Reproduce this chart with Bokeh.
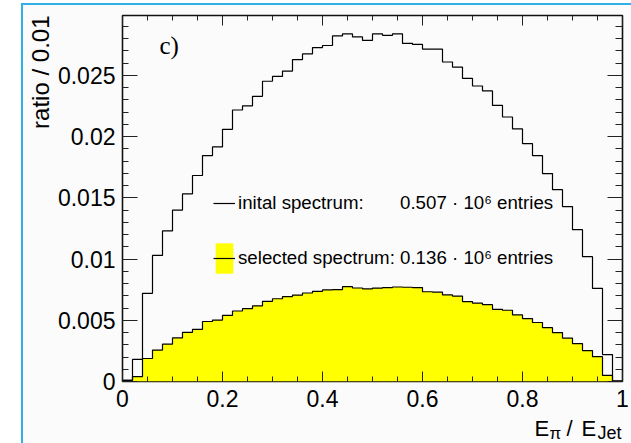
import numpy as np
from bokeh.plotting import figure
from bokeh.layouts import column
from bokeh.models import (SingleIntervalTicker, CustomJSTickFormatter, LinearAxis,
                          Legend, LegendItem, Label, Range1d, Title)
from bokeh.embed import file_html
from bokeh.resources import INLINE

# ---- data (50 bins of width 0.02 on [0, 1]) ----
bin_width = 0.02
n_bins = 50
initial_spectrum = [
    0.0001, 0.0018, 0.0072, 0.0103, 0.0123, 0.0140, 0.01533, 0.01683, 0.01846, 0.01916,
    0.0206, 0.02218, 0.02252, 0.0233, 0.02453, 0.02492, 0.02536, 0.0263, 0.02676, 0.02728,
    0.02745, 0.02823, 0.0284, 0.02815, 0.02786, 0.0284, 0.02828, 0.0284, 0.02762, 0.02754,
    0.02715, 0.02715, 0.0261, 0.02569, 0.02476, 0.02414, 0.02374, 0.02255, 0.02161, 0.02063,
    0.01944, 0.01846, 0.01699, 0.01567, 0.01429, 0.0124, 0.0102, 0.0076, 0.0022, 0.00005,
]
selected_spectrum = [
    0.0001, 0.0004, 0.00188, 0.00257, 0.00305, 0.00356, 0.00402, 0.00426, 0.0049, 0.00502,
    0.0054, 0.00576, 0.00595, 0.00618, 0.00655, 0.00676, 0.00694, 0.00706, 0.00723, 0.00737,
    0.00748, 0.00751, 0.00775, 0.00764, 0.00757, 0.00763, 0.00767, 0.00772, 0.0077, 0.00767,
    0.00733, 0.0073, 0.00707, 0.00698, 0.00653, 0.0064, 0.00628, 0.0059, 0.00582, 0.00544,
    0.00514, 0.00482, 0.0044, 0.004, 0.00355, 0.0031, 0.00253, 0.00203, 0.0005, 0.0,
]
legend_labels = ["inital spectrum:", "selected spectrum:"]
legend_counts = ["0.507 \u00b7 10\u2076 entries", "0.136 \u00b7 10\u2076 entries"]
y_axis_title = "ratio / 0.01"
x_axis_title_parts = ["E", "\u03c0", "/", "E", "Jet"]
panel_tag = "c)"

edges = np.round(np.arange(n_bins + 1) * bin_width, 4)
init_y = list(initial_spectrum) + [initial_spectrum[-1]]
sel_y = list(selected_spectrum) + [selected_spectrum[-1]]

SANS = "Liberation Sans"
BG = "#fbfbfb"

p = figure(width=608, height=412, output_backend="svg", toolbar_location=None,
           x_range=Range1d(0, 1), y_range=Range1d(0, 0.0299),
           min_border_left=99, min_border_right=9, min_border_top=10, min_border_bottom=36,
           background_fill_color=BG, border_fill_color=BG)
p.xgrid.visible = False
p.ygrid.visible = False
p.outline_line_color = "#111111"
p.outline_line_width = 1.6

area = p.varea_step(x=edges, y1=np.zeros(len(edges)), y2=sel_y, step_mode="after",
                    fill_color="#ffff00")
line_init = p.step(x=edges, y=init_y, mode="after", line_color="black", line_width=1.2)
line_sel = p.step(x=edges, y=sel_y, mode="after", line_color="black", line_width=1.2)

num_fmt = CustomJSTickFormatter(code="return Number(tick.toFixed(4)).toString()")
blank_fmt = CustomJSTickFormatter(code="return ''")


def style_axis(ax, major_in, minor_in, labels=True):
    ax.axis_line_color = None
    ax.major_tick_in = major_in
    ax.major_tick_out = 0
    ax.minor_tick_in = minor_in
    ax.minor_tick_out = 0
    ax.major_tick_line_color = "#222222"
    ax.minor_tick_line_color = "#222222"
    ax.major_tick_line_width = 1
    ax.minor_tick_line_width = 1
    if labels:
        ax.major_label_text_font = SANS
        ax.major_label_text_font_size = "23px"
        ax.major_label_text_color = "black"
    else:
        ax.major_label_text_font_size = "1px"
        ax.major_label_standoff = 0


xt = SingleIntervalTicker(interval=0.2, num_minor_ticks=4)
yt = SingleIntervalTicker(interval=0.005, num_minor_ticks=5)

xa = p.xaxis[0]
xa.ticker = xt
xa.formatter = num_fmt
style_axis(xa, 10, 5)
xa.major_label_standoff = 8

ya = p.yaxis[0]
ya.ticker = yt
ya.formatter = num_fmt
style_axis(ya, 15, 6)
ya.major_label_standoff = 7

top_ax = LinearAxis(ticker=xt, formatter=blank_fmt)
style_axis(top_ax, 10, 5, labels=False)
p.add_layout(top_ax, "above")
right_ax = LinearAxis(ticker=yt, formatter=blank_fmt)
style_axis(right_ax, 15, 7, labels=False)
p.add_layout(right_ax, "right")

legend = Legend(items=[
    LegendItem(label=legend_labels[0] + "\u00a0" * 7 + legend_counts[0], renderers=[line_init]),
    LegendItem(label=legend_labels[1] + " " + legend_counts[1], renderers=[area, line_sel]),
], location=(91, 104), orientation="vertical", padding=0, margin=0, spacing=17,
    glyph_width=22, glyph_height=38, label_standoff=3,
    label_text_font=SANS, label_text_font_size="18.7px", label_text_color="black",
    border_line_color=None, background_fill_alpha=0)
p.add_layout(legend)

# y axis title on the left side, aligned to the top of the frame
p.add_layout(Title(text=y_axis_title, align="right", vertical_align="middle",
                   text_font=SANS, text_font_size="24px",
                   text_font_style="normal", text_color="black", standoff=0), "left")

p.add_layout(Label(x=37, y=336, x_units="screen", y_units="screen", text=panel_tag,
                   text_align="left", text_baseline="alphabetic",
                   text_font="Liberation Serif", text_font_size="25px", text_color="black"))

# strip under the plot holding the x axis title (with subscripts)
q = figure(width=608, height=26, output_backend="svg", toolbar_location=None,
           x_range=Range1d(0, 1), y_range=Range1d(0, 1),
           x_axis_location=None, y_axis_location=None,
           min_border_left=99, min_border_right=9, min_border_top=0, min_border_bottom=0,
           background_fill_color=BG, border_fill_color=BG)
q.xgrid.visible = False
q.ygrid.visible = False
q.outline_line_color = None
for txt, xx, yy, fs in zip(x_axis_title_parts, [412, 427, 444, 459, 475], [15, 10, 15, 15, 10.5],
                           ["22px", "17px", "22px", "22px", "18px"]):
    q.add_layout(Label(x=xx, y=yy, x_units="screen", y_units="screen", text=txt,
                       text_align="left", text_baseline="alphabetic",
                       text_font=SANS, text_font_size=fs, text_color="black"))

layout = column(p, q, spacing=0,
                styles={"margin-left": "21px", "margin-top": "3px",
                        "border-left": "2px solid #2fb0e6", "border-top": "2px solid #2fb0e6",
                        "background-color": BG})

open("out.html", "w").write(file_html(layout, INLINE))
